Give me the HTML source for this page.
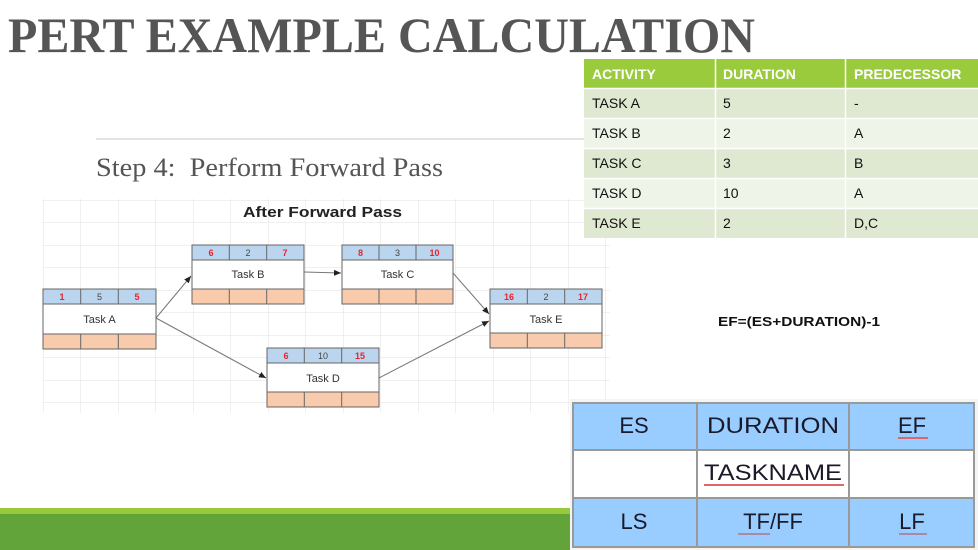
<!DOCTYPE html>
<html><head><meta charset="utf-8"><style>html,body{margin:0;padding:0;background:#fff}svg{display:block}</style></head>
<body>
<svg width="978" height="550" viewBox="0 0 978 550" xmlns="http://www.w3.org/2000/svg" font-family="Liberation Sans, sans-serif">
<defs>
<marker id="ar" markerWidth="8" markerHeight="8" refX="7" refY="3" orient="auto" markerUnits="userSpaceOnUse"><path d="M0,0 L7,3 L0,6 z" fill="#222"/></marker>
<pattern id="grid" x="5.5" y="200" width="37.5" height="22.5" patternUnits="userSpaceOnUse"><path d="M0,0 V22.5 M0,0 H37.5" stroke="#e2e2e2" stroke-width="1" fill="none"/></pattern>
</defs>
<text x="8" y="52" font-family="Liberation Serif, serif" font-weight="bold" font-size="50" fill="#555" textLength="747" lengthAdjust="spacingAndGlyphs">PERT EXAMPLE CALCULATION</text>
<line x1="96" y1="139" x2="584" y2="139" stroke="#c8c8c8" stroke-width="1"/>
<text x="96" y="176" font-family="Liberation Serif, serif" font-size="26" fill="#555" textLength="347" lengthAdjust="spacingAndGlyphs" xml:space="preserve">Step 4:  Perform Forward Pass</text>
<rect x="42" y="199" width="568" height="214" fill="url(#grid)"/>
<text x="243" y="217" font-weight="bold" font-size="15" fill="#222" textLength="159" lengthAdjust="spacingAndGlyphs">After Forward Pass</text>
<g stroke="#777" stroke-width="1" fill="none">
<line x1="156" y1="318" x2="191" y2="276" marker-end="url(#ar)"/>
<line x1="304" y1="272" x2="341" y2="273" marker-end="url(#ar)"/>
<line x1="453" y1="273" x2="489" y2="314" marker-end="url(#ar)"/>
<line x1="156" y1="318" x2="266" y2="378" marker-end="url(#ar)"/>
<line x1="379" y1="378" x2="489" y2="321" marker-end="url(#ar)"/>
</g>
<g font-size="10" text-anchor="middle">
<g transform="translate(43,289)">
<rect width="113" height="60" fill="#fff" stroke="#666"/><rect width="113" height="15" fill="#bcd5ee" stroke="#666"/><rect y="45" width="113" height="15" fill="#f8cbad" stroke="#666"/>
<path d="M37.7,0V15M75.3,0V15M37.7,45V60M75.3,45V60" stroke="#666"/>
<text x="19" y="11" fill="#e8232f" font-weight="bold" font-size="9">1</text><text x="56.5" y="11" fill="#444" font-size="9">5</text><text x="94" y="11" fill="#e8232f" font-weight="bold" font-size="9">5</text>
<text x="56.5" y="34" fill="#333" font-size="11">Task A</text></g>
<g transform="translate(192,245)">
<rect width="112" height="59" fill="#fff" stroke="#666"/><rect width="112" height="15" fill="#bcd5ee" stroke="#666"/><rect y="44" width="112" height="15" fill="#f8cbad" stroke="#666"/>
<path d="M37.3,0V15M74.7,0V15M37.3,44V59M74.7,44V59" stroke="#666"/>
<text x="19" y="11" fill="#e8232f" font-weight="bold" font-size="9">6</text><text x="56" y="11" fill="#444" font-size="9">2</text><text x="93" y="11" fill="#e8232f" font-weight="bold" font-size="9">7</text>
<text x="56" y="33" fill="#333" font-size="11">Task B</text></g>
<g transform="translate(342,245)">
<rect width="111" height="59" fill="#fff" stroke="#666"/><rect width="111" height="15" fill="#bcd5ee" stroke="#666"/><rect y="44" width="111" height="15" fill="#f8cbad" stroke="#666"/>
<path d="M37,0V15M74,0V15M37,44V59M74,44V59" stroke="#666"/>
<text x="18.5" y="11" fill="#e8232f" font-weight="bold" font-size="9">8</text><text x="55.5" y="11" fill="#444" font-size="9">3</text><text x="92.5" y="11" fill="#e8232f" font-weight="bold" font-size="9">10</text>
<text x="55.5" y="33" fill="#333" font-size="11">Task C</text></g>
<g transform="translate(490,289)">
<rect width="112" height="59" fill="#fff" stroke="#666"/><rect width="112" height="15" fill="#bcd5ee" stroke="#666"/><rect y="44" width="112" height="15" fill="#f8cbad" stroke="#666"/>
<path d="M37.3,0V15M74.7,0V15M37.3,44V59M74.7,44V59" stroke="#666"/>
<text x="19" y="11" fill="#e8232f" font-weight="bold" font-size="9">16</text><text x="56" y="11" fill="#444" font-size="9">2</text><text x="93" y="11" fill="#e8232f" font-weight="bold" font-size="9">17</text>
<text x="56" y="34" fill="#333" font-size="11">Task E</text></g>
<g transform="translate(267,348)">
<rect width="112" height="59" fill="#fff" stroke="#666"/><rect width="112" height="15" fill="#bcd5ee" stroke="#666"/><rect y="44" width="112" height="15" fill="#f8cbad" stroke="#666"/>
<path d="M37.3,0V15M74.7,0V15M37.3,44V59M74.7,44V59" stroke="#666"/>
<text x="19" y="11" fill="#e8232f" font-weight="bold" font-size="9">6</text><text x="56" y="11" fill="#444" font-size="9">10</text><text x="93" y="11" fill="#e8232f" font-weight="bold" font-size="9">15</text>
<text x="56" y="34" fill="#333" font-size="11">Task D</text></g>
</g>
<g font-size="14" fill="#111">
<rect x="584" y="59" width="394" height="29" fill="#9acb3c"/>
<rect x="584" y="88" width="394" height="30" fill="#dfe9d1"/>
<rect x="584" y="118" width="394" height="30" fill="#eef4e7"/>
<rect x="584" y="148" width="394" height="30" fill="#dfe9d1"/>
<rect x="584" y="178" width="394" height="30" fill="#eef4e7"/>
<rect x="584" y="208" width="394" height="30" fill="#dfe9d1"/>
<path d="M715.5,59V238M845.5,59V238M584,88.5H978M584,118.5H978M584,148.5H978M584,178.5H978M584,208.5H978" stroke="#fff" stroke-width="1.5"/>
<g fill="#fff" font-weight="bold"><text x="592" y="79">ACTIVITY</text><text x="723" y="79">DURATION</text><text x="854" y="79">PREDECESSOR</text></g>
<text x="592" y="108">TASK A</text><text x="723" y="108">5</text><text x="854" y="108">-</text>
<text x="592" y="138">TASK B</text><text x="723" y="138">2</text><text x="854" y="138">A</text>
<text x="592" y="168">TASK C</text><text x="723" y="168">3</text><text x="854" y="168">B</text>
<text x="592" y="198">TASK D</text><text x="723" y="198">10</text><text x="854" y="198">A</text>
<text x="592" y="228">TASK E</text><text x="723" y="228">2</text><text x="854" y="228">D,C</text>
</g>
<text x="718" y="326" font-weight="bold" font-size="13" fill="#111" textLength="162" lengthAdjust="spacingAndGlyphs">EF=(ES+DURATION)-1</text>
<rect x="0" y="508" width="572" height="6" fill="#98c93a"/>
<rect x="0" y="514" width="572" height="36" fill="#62a33a"/>
<rect x="570" y="399" width="408" height="151" fill="#f4f4f4"/>
<rect x="572" y="402" width="403" height="146" fill="#fff"/>
<rect x="572" y="402" width="403" height="48" fill="#99ccff"/>
<rect x="572" y="498" width="403" height="48" fill="#99ccff"/>
<g stroke="#999" stroke-width="2" fill="none">
<rect x="573" y="403" width="401" height="144"/>
<path d="M572,450H975M572,498H975M697,402V547M849,402V547"/>
</g>
<g font-size="22" fill="#1a1a2a" text-anchor="middle">
<text x="634" y="433">ES</text><text x="773" y="433" textLength="132" lengthAdjust="spacingAndGlyphs">DURATION</text><text x="912" y="433">EF</text>
<text x="773" y="480" textLength="138" lengthAdjust="spacingAndGlyphs">TASKNAME</text>
<text x="634" y="529">LS</text><text x="773" y="529">TF/FF</text><text x="912" y="529">LF</text>
</g>
<g stroke="#d66" stroke-width="2"><line x1="898" y1="438" x2="928" y2="438"/><line x1="704" y1="485" x2="844" y2="485"/></g>
<g stroke="#a8a" stroke-width="2"><line x1="738" y1="534" x2="770" y2="534"/><line x1="899" y1="534" x2="927" y2="534"/></g>
</svg>
</body></html>
